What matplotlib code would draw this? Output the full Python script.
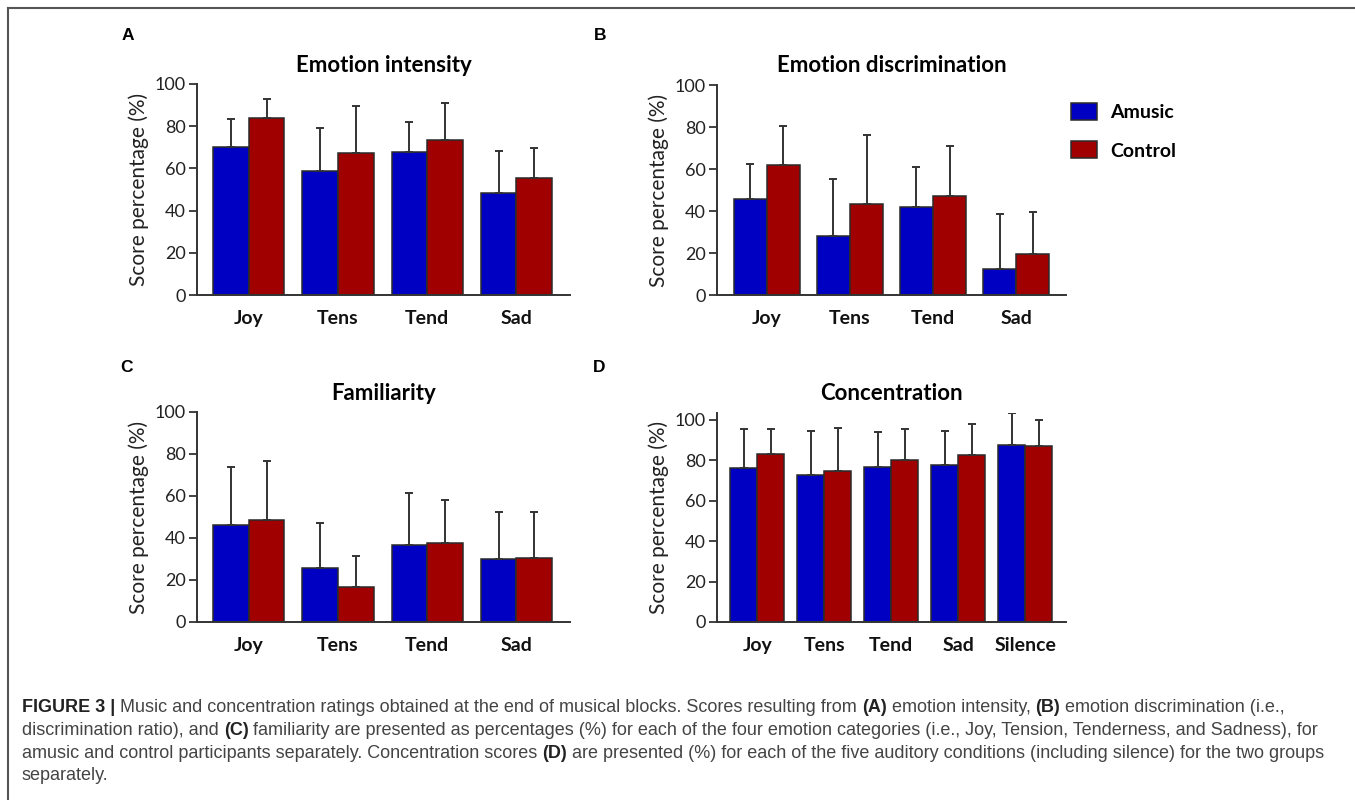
import matplotlib
matplotlib.use("Agg")
import matplotlib.pyplot as plt
import numpy as np
from matplotlib.patches import Patch
from matplotlib.lines import Line2D

# ---------------- data ----------------
emotions = ["Joy", "Tens", "Tend", "Sad"]
conditions = ["Joy", "Tens", "Tend", "Sad", "Silence"]
groups = ["Amusic", "Control"]

intensity_amusic = [70, 59, 67.6, 48.3]
intensity_amusic_sd = [13.6, 20.0, 14.5, 20.1]
intensity_control = [84, 67.3, 73.3, 55.6]
intensity_control_sd = [9.0, 22.1, 17.7, 14.2]

discrim_amusic = [45.7, 28.1, 41.7, 12.2]
discrim_amusic_sd = [16.7, 27.3, 19.1, 26.2]
discrim_control = [62.1, 43.5, 47.3, 19.5]
discrim_control_sd = [18.4, 32.5, 23.5, 19.9]

famil_amusic = [46.0, 25.8, 36.7, 29.9]
famil_amusic_sd = [27.6, 21.2, 24.7, 22.3]
famil_control = [48.6, 16.5, 37.7, 30.5]
famil_control_sd = [28.0, 15.1, 20.4, 21.7]

conc_amusic = [76.1, 72.6, 76.7, 77.4, 87.5]
conc_amusic_sd = [19.5, 22.0, 17.1, 16.9, 15.6]
conc_control = [82.9, 74.6, 80.3, 82.6, 86.9]
conc_control_sd = [12.5, 21.1, 15.3, 15.1, 12.8]

titles = ["Emotion intensity", "Emotion discrimination", "Familiarity", "Concentration"]
letters = ["A", "B", "C", "D"]

# ---------------- style ----------------
BLUE = "#0000C2"
RED = "#A00000"
EDGE = "#2a2a2a"
AXC = "#333333"
W, H = 1355, 800

fig = plt.figure(figsize=(W / 100, H / 100), dpi=100)

def fx(px):
    return px / W

def fy(py):
    return 1 - py / H

panels = [
    dict(cats=emotions, a=intensity_amusic, asd=intensity_amusic_sd, c=intensity_control,
         csd=intensity_control_sd, rect=(197, 84, 570, 295), xlim=(-0.58, 3.6), ytop=100),
    dict(cats=emotions, a=discrim_amusic, asd=discrim_amusic_sd, c=discrim_control,
         csd=discrim_control_sd, rect=(717, 85, 1066, 295), xlim=(-0.6, 3.6), ytop=100),
    dict(cats=emotions, a=famil_amusic, asd=famil_amusic_sd, c=famil_control,
         csd=famil_control_sd, rect=(197, 412, 570, 622), xlim=(-0.58, 3.6), ytop=100),
    dict(cats=conditions, a=conc_amusic, asd=conc_amusic_sd, c=conc_control,
         csd=conc_control_sd, rect=(717, 413, 1066, 622), xlim=(-0.6, 4.61), ytop=103.3),
]

axes = []
bw = 0.4
for i, p in enumerate(panels):
    l, t, r, b = p["rect"]
    ax = fig.add_axes([fx(l), fy(b), fx(r) - fx(l), fy(t) - fy(b)])
    axes.append(ax)
    x = np.arange(len(p["cats"]))
    ekw = dict(ecolor=AXC, elinewidth=1.4, capsize=2.6, capthick=1.4)
    ax.bar(x - bw / 2, p["a"], bw, color=BLUE, edgecolor=EDGE, linewidth=1.1,
           yerr=[np.zeros(len(x)), p["asd"]], error_kw=ekw, zorder=2)
    ax.bar(x + bw / 2, p["c"], bw, color=RED, edgecolor=EDGE, linewidth=1.1,
           yerr=[np.zeros(len(x)), p["csd"]], error_kw=ekw, zorder=2)
    ax.set_xlim(*p["xlim"])
    ax.set_ylim(0, p["ytop"])
    ax.set_yticks([0, 20, 40, 60, 80, 100])
    ax.set_yticklabels(["0", "20", "40", "60", "80", "100"], fontfamily="Lato", fontsize=13, color="#222222")
    ax.set_xticks(x)
    ax.set_xticklabels(p["cats"], fontfamily="Lato", fontweight="bold", fontsize=14, color="#111111")
    ax.tick_params(axis="x", length=0, pad=11)
    ax.tick_params(axis="y", length=6, width=1.3, color=AXC, pad=2)
    for s in ["top", "right"]:
        ax.spines[s].set_visible(False)
    for s in ["left", "bottom"]:
        ax.spines[s].set_color(AXC)
        ax.spines[s].set_linewidth(1.4)
    ax.set_ylabel("Score percentage (%)", fontfamily="Lato", fontsize=15, color="#222222", labelpad=4)
    ax.set_title(titles[i], fontfamily="Lato", fontweight="bold", fontsize=16, pad=9)

# panel letters
for (lx, ly), let in zip([(128, 36), (600, 36), (127, 367), (599, 367)], letters):
    fig.text(fx(lx), fy(ly), let, fontfamily="Liberation Sans", fontweight="bold",
             fontsize=12.5, ha="center", va="center")

# legend
handles = [Patch(facecolor=BLUE, edgecolor=EDGE, linewidth=1.1),
           Patch(facecolor=RED, edgecolor=EDGE, linewidth=1.1)]
leg = axes[1].legend(handles, groups, loc="upper left", bbox_to_anchor=(fx(1071), fy(103)),
                     bbox_transform=fig.transFigure, frameon=False, borderaxespad=0, borderpad=0,
                     handlelength=1.35, handleheight=0.95, handletextpad=0.65, labelspacing=1.05,
                     prop=dict(family="Lato", weight="bold", size=14))

# border lines
fig.add_artist(Line2D([fx(8), fx(8)], [fy(8), 0], transform=fig.transFigure, color="#555555", lw=1.5))
fig.add_artist(Line2D([fx(8), 1], [fy(8), fy(8)], transform=fig.transFigure, color="#555555", lw=1.5))

# caption with mixed bold segments
cap_lines = [
    [("FIGURE 3 | ", True), ("Music and concentration ratings obtained at the end of musical blocks. Scores resulting from ", False),
     ("(A)", True), (" emotion intensity, ", False), ("(B)", True), (" emotion discrimination (i.e.,", False)],
    [("discrimination ratio), and ", False), ("(C)", True),
     (" familiarity are presented as percentages (%) for each of the four emotion categories (i.e., Joy, Tension, Tenderness, and Sadness), for", False)],
    [("amusic and control participants separately. Concentration scores ", False), ("(D)", True),
     (" are presented (%) for each of the five auditory conditions (including silence) for the two groups", False)],
    [("separately.", False)],
]
renderer = fig.canvas.get_renderer()
line_y = [708, 730.5, 753, 776]
for segs, py in zip(cap_lines, line_y):
    xpix = 22
    for txt, bold in segs:
        t = fig.text(fx(xpix), fy(py), txt, fontfamily="Liberation Sans",
                     fontweight="bold" if bold else "normal", fontsize=13.0,
                     color="#222222" if bold else "#444444", ha="left", va="center")
        bb = t.get_window_extent(renderer=renderer)
        xpix += bb.width

fig.savefig("out.png", dpi=100)
